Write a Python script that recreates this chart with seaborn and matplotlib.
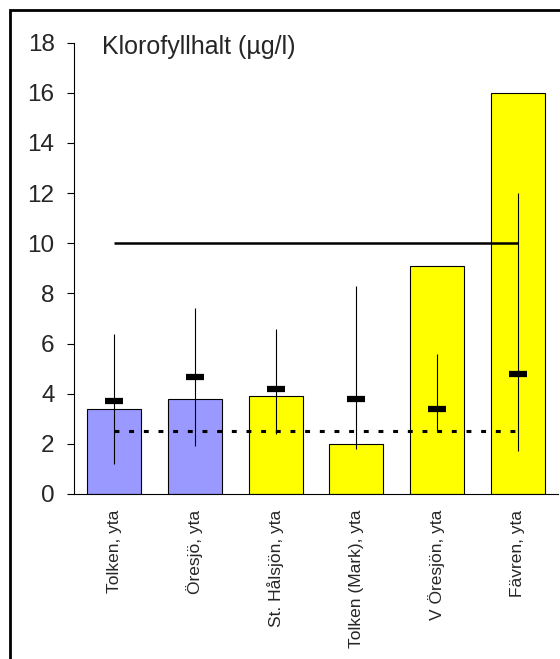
import matplotlib
matplotlib.use("Agg")
import matplotlib.pyplot as plt
from matplotlib.patches import Rectangle
import seaborn as sns
import pandas as pd

# data
sites = ["Tolken, yta", "Öresjö, yta", "St. Hålsjön, yta",
         "Tolken (Mark), yta", "V Öresjön, yta", "Fävren, yta"]
chlorophyll = [3.4, 3.8, 3.9, 2.0, 9.1, 16.0]
range_low = [1.2, 1.9, 2.4, 1.8, 2.5, 1.7]
range_high = [6.4, 7.4, 6.6, 8.3, 5.6, 12.0]
median = [3.7, 4.65, 4.2, 3.8, 3.4, 4.8]
bar_colors = ["#9999FF", "#9999FF", "#FFFF00", "#FFFF00", "#FFFF00", "#FFFF00"]
upper_limit = 10
lower_limit = 2.5
yticks = [0, 2, 4, 6, 8, 10, 12, 14, 16, 18]

sns.set_style("white")
plt.rcParams["font.family"] = ["Liberation Sans", "DejaVu Sans"]

df = pd.DataFrame({"site": sites, "chl": chlorophyll})

fig = plt.figure(figsize=(5.6, 6.59), dpi=100)
ax = fig.add_axes([0.1321, 0.2504, 0.8643, 0.6848])

sns.barplot(data=df, x="site", y="chl", hue="site", palette=bar_colors,
            legend=False, width=0.67, edgecolor="black", linewidth=0.8,
            saturation=1, ax=ax)

x = list(range(len(sites)))
ax.vlines(x, range_low, range_high, color="black", lw=0.8, zorder=4)
ax.plot(x, median, ls="none", marker="_", ms=13, mew=4.5, color="black", zorder=5)

ax.hlines(upper_limit, 0, len(sites) - 1, color="black", lw=1.8, zorder=3)
ax.hlines(lower_limit, 0, len(sites) - 1, color="black", lw=2.2,
          linestyles=(0, (1.6, 3.2)), zorder=3)

ax.set_xlim(-0.5, len(sites) - 0.5)
ax.set_ylim(0, 18)
ax.set_yticks(yticks)
ax.set_xlabel("")
ax.set_ylabel("")
ax.tick_params(axis="y", left=True, length=5, width=0.8, color="black",
               labelsize=17.5, pad=9)
ax.tick_params(axis="x", bottom=False, labelsize=12.5, pad=8)
ax.set_xticks(x)
ax.set_xticklabels(sites, rotation=90)

for side in ["top", "right"]:
    ax.spines[side].set_visible(False)
for side in ["left", "bottom"]:
    ax.spines[side].set_color("black")
    ax.spines[side].set_linewidth(0.8)

ax.text(-0.155, 17.55, "Klorofyllhalt (µg/l)", fontsize=18, va="baseline", ha="left")

# outer frame, cut off at right and bottom like the reference
fig.patches.append(Rectangle((9.7 / 560, -0.2), 1.2, 1.2 - 9.7 / 659,
                             transform=fig.transFigure, fill=False,
                             ec="black", lw=2.0))

fig.savefig("out.png", dpi=100)
